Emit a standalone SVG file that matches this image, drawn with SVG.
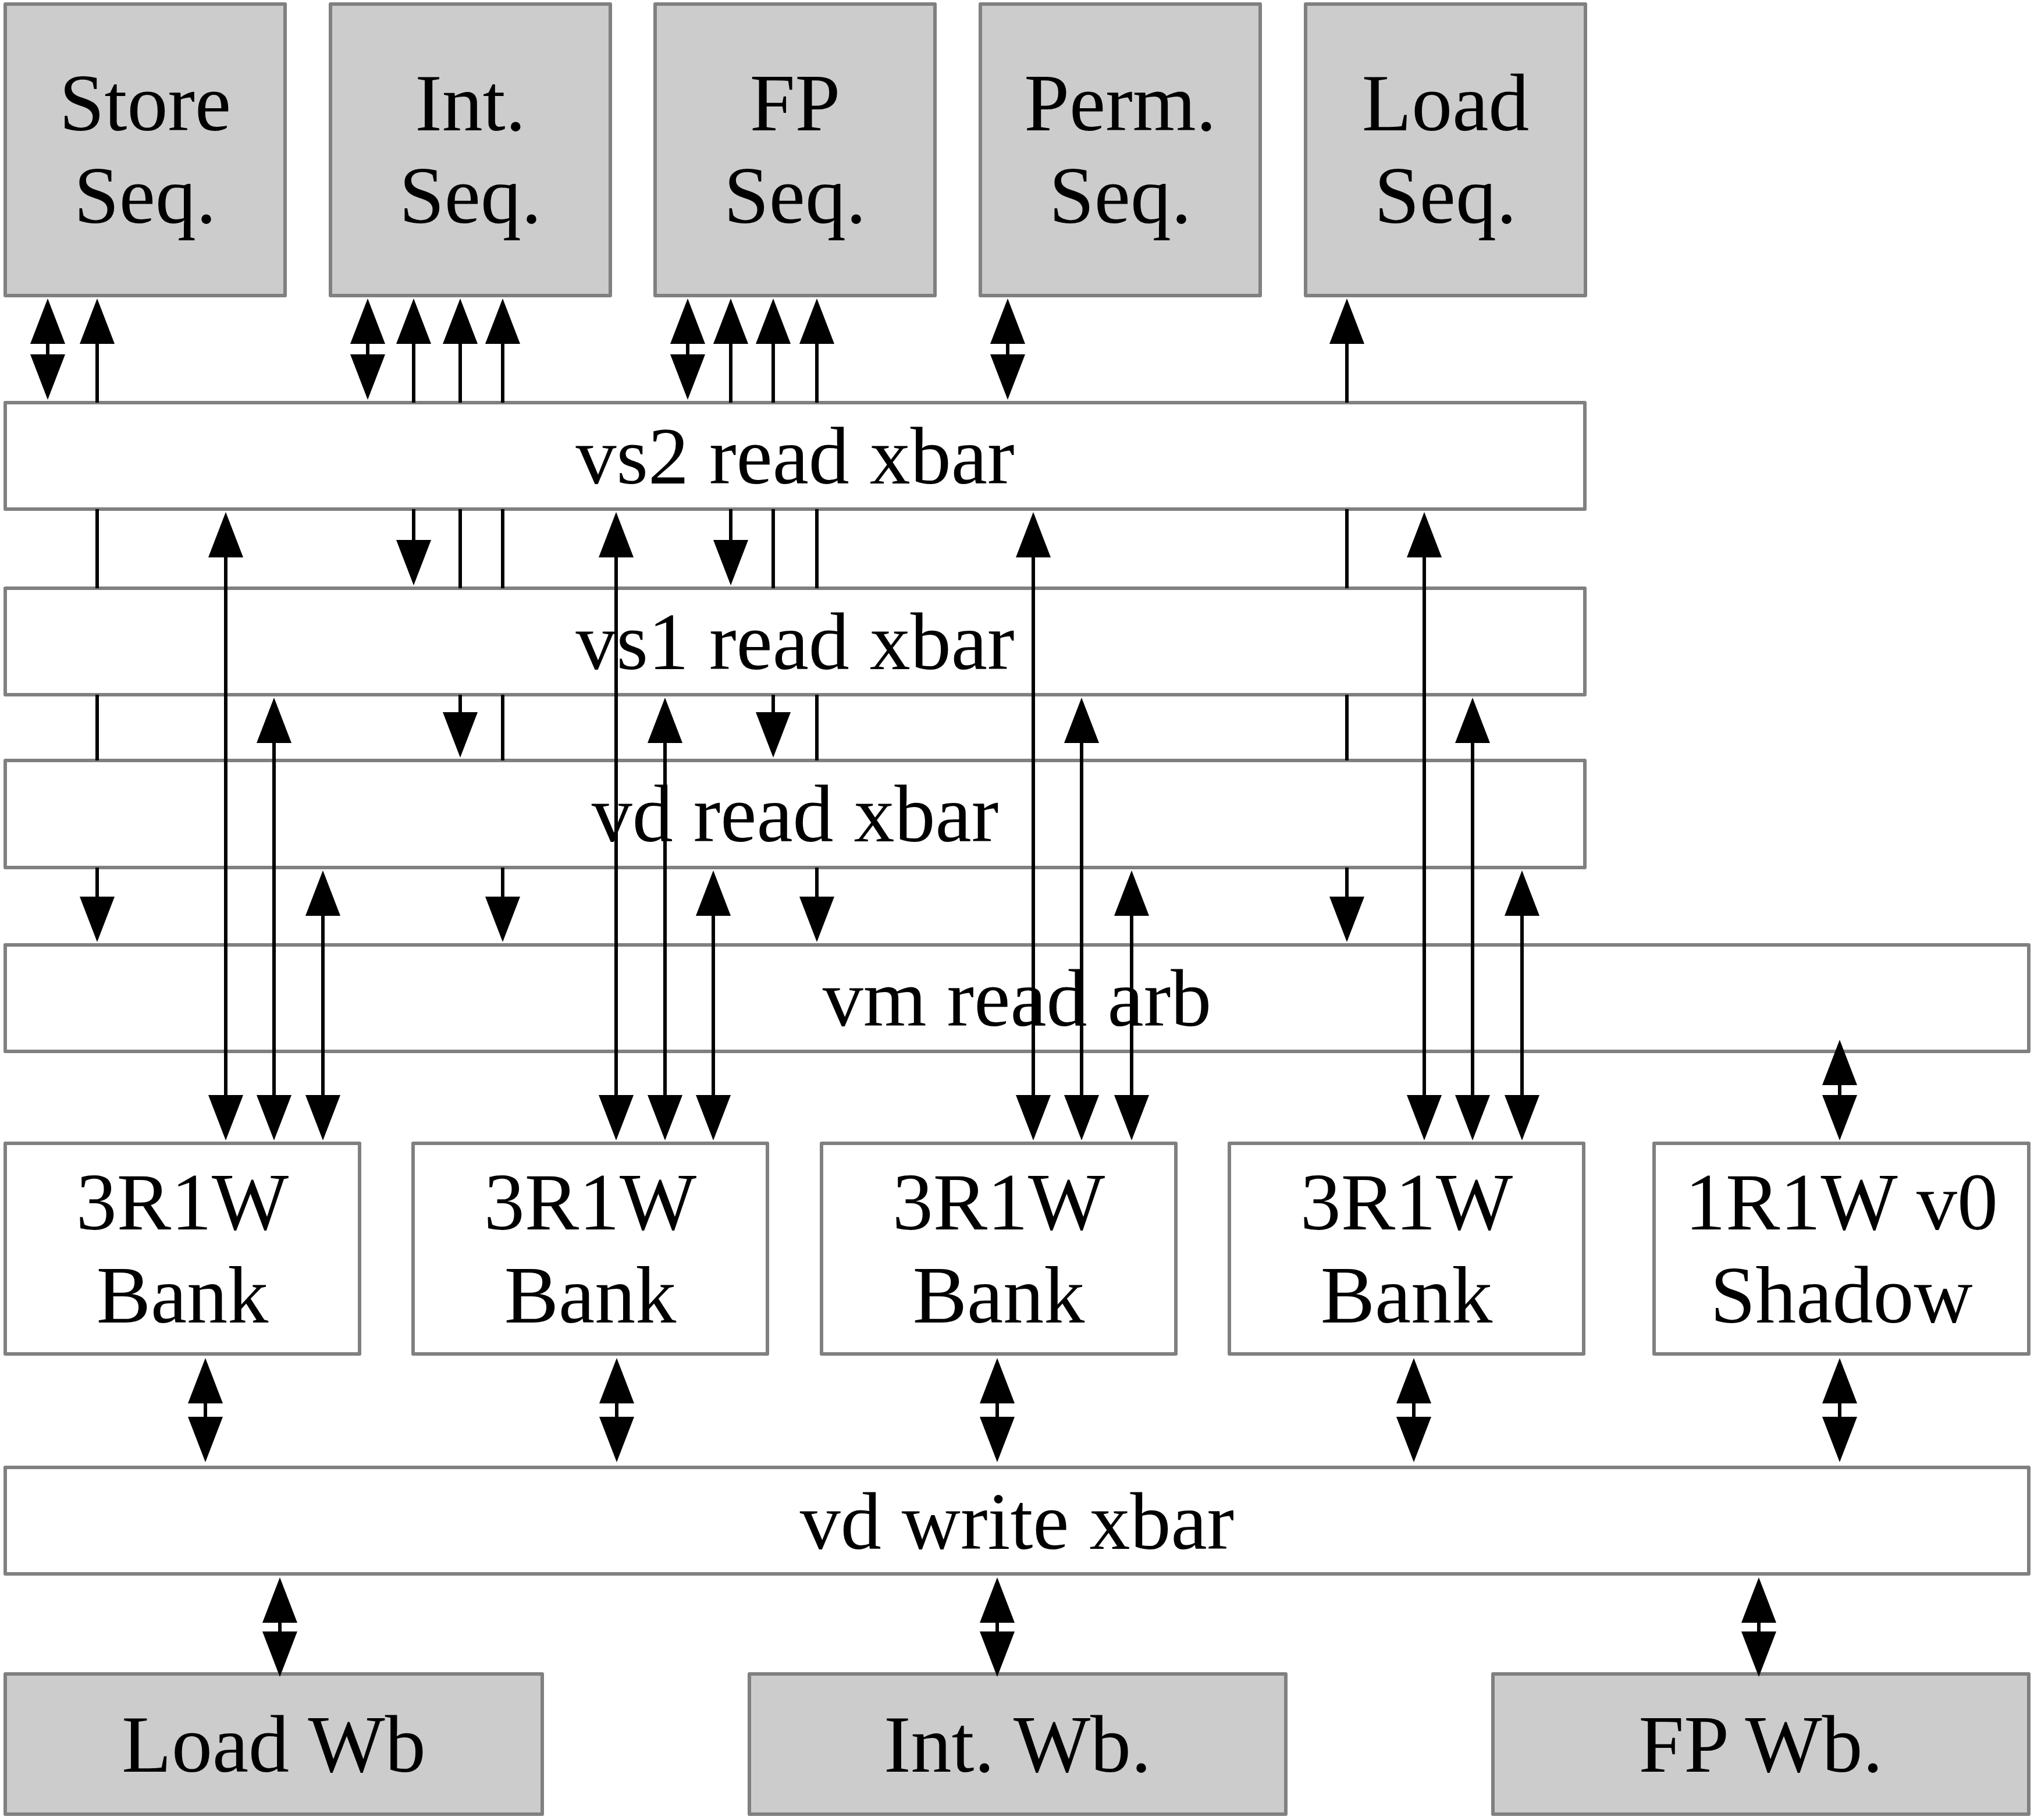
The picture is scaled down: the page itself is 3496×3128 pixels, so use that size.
<svg xmlns="http://www.w3.org/2000/svg" width="3496" height="3128" viewBox="0 0 3496 3128">
<style>
.box{fill:#ffffff;stroke:#808080;stroke-width:6;stroke-linejoin:round}
.gray{fill:#cccccc}
.t{font-family:"Liberation Serif","DejaVu Serif",serif;font-size:140px;fill:#000000;text-anchor:middle}
.c line{stroke:#000000;stroke-width:6;fill:none}
.a{marker-end:url(#ah)}
.d{marker-start:url(#ah);marker-end:url(#ah)}
</style>
<defs>
<marker id="ah" viewBox="0 0 78 60" refX="0" refY="30" markerWidth="78" markerHeight="60" markerUnits="userSpaceOnUse" orient="auto-start-reverse">
<path d="M0,0 L78,30 L0,60 z" fill="#000000"/>
</marker>
</defs>
<rect width="3496" height="3128" fill="#ffffff"/>

<g id="store-seq"><rect class="box gray" x="9" y="7" width="481" height="501"/><text class="t" x="249.5" y="224">Store</text><text class="t" x="249.5" y="383">Seq.</text></g>
<g id="int-seq"><rect class="box gray" x="568" y="7" width="481" height="501"/><text class="t" x="808.5" y="224">Int.</text><text class="t" x="808.5" y="383">Seq.</text></g>
<g id="fp-seq"><rect class="box gray" x="1126" y="7" width="481" height="501"/><text class="t" x="1366.5" y="224">FP</text><text class="t" x="1366.5" y="383">Seq.</text></g>
<g id="perm-seq"><rect class="box gray" x="1685" y="7" width="481" height="501"/><text class="t" x="1925.5" y="224">Perm.</text><text class="t" x="1925.5" y="383">Seq.</text></g>
<g id="load-seq"><rect class="box gray" x="2244" y="7" width="481" height="501"/><text class="t" x="2484.5" y="224">Load</text><text class="t" x="2484.5" y="383">Seq.</text></g>

<g id="vs2-xbar"><rect class="box" x="9" y="692" width="2715" height="183"/><text class="t" x="1366.5" y="831">vs2 read xbar</text></g>
<g id="vs1-xbar"><rect class="box" x="9" y="1011" width="2715" height="183"/><text class="t" x="1366.5" y="1150">vs1 read xbar</text></g>
<g id="vd-read-xbar"><rect class="box" x="9" y="1307" width="2715" height="184"/><text class="t" x="1366.5" y="1446">vd read xbar</text></g>
<g id="vm-read-arb"><rect class="box" x="9" y="1624" width="3478" height="183"/><text class="t" x="1748" y="1763">vm read arb</text></g>

<g id="bank0"><rect class="box" x="9" y="1965" width="609" height="362"/><text class="t" x="313.5" y="2113">3R1W</text><text class="t" x="313.5" y="2273">Bank</text></g>
<g id="bank1"><rect class="box" x="710" y="1965" width="609" height="362"/><text class="t" x="1014.5" y="2113">3R1W</text><text class="t" x="1014.5" y="2273">Bank</text></g>
<g id="bank2"><rect class="box" x="1412" y="1965" width="609" height="362"/><text class="t" x="1716.5" y="2113">3R1W</text><text class="t" x="1716.5" y="2273">Bank</text></g>
<g id="bank3"><rect class="box" x="2113" y="1965" width="609" height="362"/><text class="t" x="2417.5" y="2113">3R1W</text><text class="t" x="2417.5" y="2273">Bank</text></g>
<g id="v0-shadow"><rect class="box" x="2843" y="1965" width="644" height="362"/><text class="t" x="3165" y="2113">1R1W v0</text><text class="t" x="3165" y="2273">Shadow</text></g>

<g id="vd-write-xbar"><rect class="box" x="9" y="2522" width="3478" height="183"/><text class="t" x="1748" y="2662">vd write xbar</text></g>

<g id="load-wb"><rect class="box gray" x="9" y="2877" width="923" height="241"/><text class="t" x="470.5" y="3045">Load Wb</text></g>
<g id="int-wb"><rect class="box gray" x="1288" y="2877" width="922" height="241"/><text class="t" x="1749" y="3045">Int. Wb.</text></g>
<g id="fp-wb"><rect class="box gray" x="2566" y="2877" width="921" height="241"/><text class="t" x="3026.5" y="3045">FP Wb.</text></g>

<g id="connectors" class="c">
<line class="d" x1="82" y1="591" x2="82" y2="609"/>
<line class="d" x1="632" y1="591" x2="632" y2="609"/>
<line class="d" x1="1182" y1="591" x2="1182" y2="609"/>
<line class="d" x1="1732" y1="591" x2="1732" y2="609"/>

<line class="a" x1="167" y1="692" x2="167" y2="591"/>
<line class="a" x1="711" y1="692" x2="711" y2="591"/>
<line class="a" x1="791" y1="692" x2="791" y2="591"/>
<line class="a" x1="864" y1="692" x2="864" y2="591"/>
<line class="a" x1="1256" y1="692" x2="1256" y2="591"/>
<line class="a" x1="1329" y1="692" x2="1329" y2="591"/>
<line class="a" x1="1404" y1="692" x2="1404" y2="591"/>
<line class="a" x1="2315" y1="692" x2="2315" y2="591"/>

<line class="a" x1="711" y1="875" x2="711" y2="928"/>
<line class="a" x1="1256" y1="875" x2="1256" y2="928"/>
<line x1="167" y1="875" x2="167" y2="1011"/>
<line x1="791" y1="875" x2="791" y2="1011"/>
<line x1="864" y1="875" x2="864" y2="1011"/>
<line x1="1329" y1="875" x2="1329" y2="1011"/>
<line x1="1404" y1="875" x2="1404" y2="1011"/>
<line x1="2315" y1="875" x2="2315" y2="1011"/>

<line class="a" x1="791" y1="1194" x2="791" y2="1224"/>
<line class="a" x1="1329" y1="1194" x2="1329" y2="1224"/>
<line x1="167" y1="1194" x2="167" y2="1307"/>
<line x1="864" y1="1194" x2="864" y2="1307"/>
<line x1="1404" y1="1194" x2="1404" y2="1307"/>
<line x1="2315" y1="1194" x2="2315" y2="1307"/>

<line class="a" x1="167" y1="1491" x2="167" y2="1541"/>
<line class="a" x1="864" y1="1491" x2="864" y2="1541"/>
<line class="a" x1="1404" y1="1491" x2="1404" y2="1541"/>
<line class="a" x1="2315" y1="1491" x2="2315" y2="1541"/>

<line class="d" x1="388" y1="958" x2="388" y2="1882"/>
<line class="d" x1="1059" y1="958" x2="1059" y2="1882"/>
<line class="d" x1="1776" y1="958" x2="1776" y2="1882"/>
<line class="d" x1="2448" y1="958" x2="2448" y2="1882"/>
<line class="d" x1="471" y1="1277" x2="471" y2="1882"/>
<line class="d" x1="1143" y1="1277" x2="1143" y2="1882"/>
<line class="d" x1="1859" y1="1277" x2="1859" y2="1882"/>
<line class="d" x1="2531" y1="1277" x2="2531" y2="1882"/>
<line class="d" x1="555" y1="1574" x2="555" y2="1882"/>
<line class="d" x1="1226" y1="1574" x2="1226" y2="1882"/>
<line class="d" x1="1945" y1="1574" x2="1945" y2="1882"/>
<line class="d" x1="2616" y1="1574" x2="2616" y2="1882"/>
<line class="d" x1="3162" y1="1865" x2="3162" y2="1882"/>

<line class="d" x1="353" y1="2412" x2="353" y2="2435"/>
<line class="d" x1="1060" y1="2412" x2="1060" y2="2435"/>
<line class="d" x1="1714" y1="2412" x2="1714" y2="2435"/>
<line class="d" x1="2430" y1="2412" x2="2430" y2="2435"/>
<line class="d" x1="3162" y1="2412" x2="3162" y2="2435"/>

<line class="d" x1="481" y1="2789" x2="481" y2="2804"/>
<line class="d" x1="1714" y1="2789" x2="1714" y2="2804"/>
<line class="d" x1="3023" y1="2789" x2="3023" y2="2804"/>
</g>
</svg>
